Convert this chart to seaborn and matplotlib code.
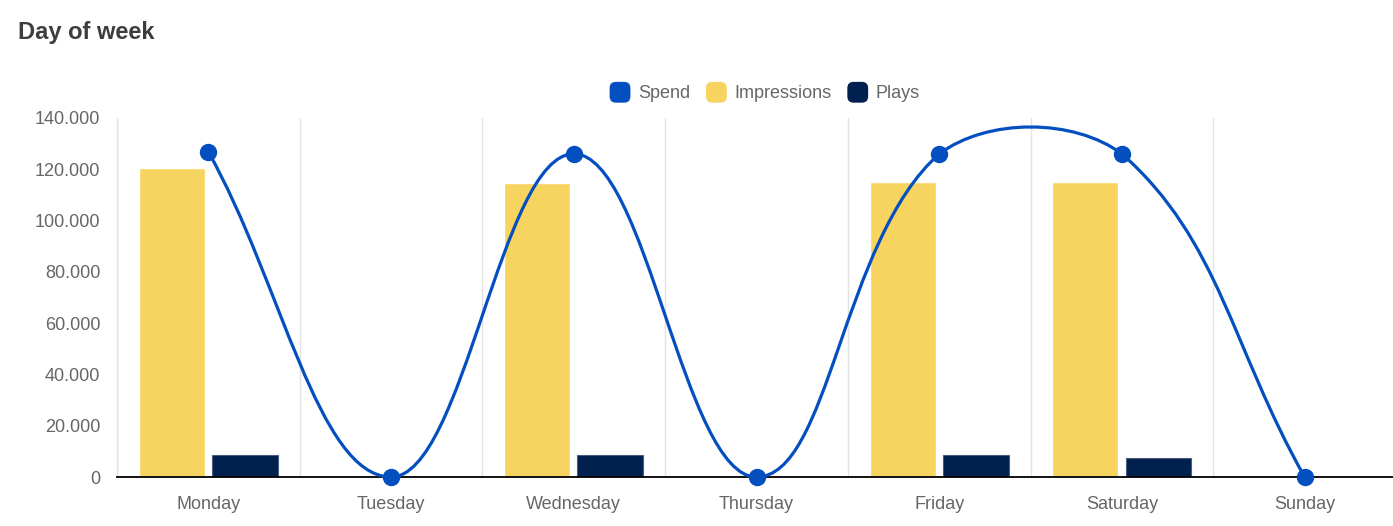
import numpy as np
import pandas as pd
import matplotlib
matplotlib.use("Agg")
import matplotlib.pyplot as plt
import seaborn as sns
from matplotlib.path import Path
from matplotlib.patches import PathPatch, FancyBboxPatch
from matplotlib.legend_handler import HandlerPatch
from matplotlib.ticker import FuncFormatter
import matplotlib.patches as mpatches

days = ["Monday", "Tuesday", "Wednesday", "Thursday", "Friday", "Saturday", "Sunday"]
spend = [126800, 0, 126000, 0, 126000, 126000, 0]
impressions = [120500, 0, 114800, 0, 115200, 115000, 0]
plays = [8600, 0, 8600, 0, 8600, 7400, 0]
yticks = [0, 20000, 40000, 60000, 80000, 100000, 120000, 140000]

C_SPEND = "#044fc0"
C_IMP = "#f7d45f"
C_PLAYS = "#00204e"

sns.set_style("white")
plt.rcParams["font.family"] = ["Liberation Sans", "DejaVu Sans"]

W, H = 1393, 526
fig = plt.figure(figsize=(W / 100, H / 100), dpi=100)
ax = fig.add_axes([117 / W, 1 - 477 / H, (1396 - 117) / W, (477 - 118) / H])

df = pd.DataFrame({
    "day": days * 2,
    "value": impressions + plays,
    "series": ["Impressions"] * 7 + ["Plays"] * 7,
})
sns.barplot(data=df, x="day", y="value", hue="series", order=days,
            hue_order=["Impressions", "Plays"],
            palette={"Impressions": C_IMP, "Plays": C_PLAYS},
            width=0.8, gap=0.1, saturation=1, errorbar=None,
            legend=False, ax=ax, zorder=2)
for p in ax.containers[1]:
    p.set_edgecolor("#4b5e82")
    p.set_linewidth(0.8)

ax.set_xlim(-0.5, 6.5)
ax.set_ylim(0, 140000)
ax.set_xlabel("")
ax.set_ylabel("")

# Chart.js-like spline (tension 0.4) computed in display space, control points capped to the plot area
fig.canvas.draw()
xs = np.arange(len(days), dtype=float)
pts = ax.transData.transform(np.column_stack([xs, np.array(spend, float)]))
bb = ax.get_window_extent()
t = 0.4
n = len(pts)
cp_prev = np.zeros_like(pts)
cp_next = np.zeros_like(pts)
for i in range(n):
    prev = pts[i - 1] if i > 0 else pts[i]
    cur = pts[i]
    nxt = pts[i + 1] if i < n - 1 else pts[i]
    d01 = np.hypot(*(cur - prev))
    d12 = np.hypot(*(nxt - cur))
    tot = d01 + d12
    s01 = d01 / tot if tot else 0
    s12 = d12 / tot if tot else 0
    cp_prev[i] = cur - t * s01 * (nxt - prev)
    cp_next[i] = cur + t * s12 * (nxt - prev)
for arr in (cp_prev, cp_next):
    arr[:, 0] = np.clip(arr[:, 0], bb.x0, bb.x1)
    arr[:, 1] = np.clip(arr[:, 1], bb.y0, bb.y1)
verts = [pts[0]]
codes = [Path.MOVETO]
for i in range(n - 1):
    verts += [cp_next[i], cp_prev[i + 1], pts[i + 1]]
    codes += [Path.CURVE4] * 3
verts = ax.transData.inverted().transform(np.array(verts))
ax.add_patch(PathPatch(Path(verts, codes), facecolor="none", edgecolor=C_SPEND,
                       lw=2.3, zorder=4, clip_on=False))
ax.plot(xs, spend, linestyle="none", marker="o", markersize=11.5,
        color=C_SPEND, zorder=5, clip_on=False)

# axes styling
for s in ["top", "right"]:
    ax.spines[s].set_visible(False)
ax.spines["left"].set_color("#e2e2e2")
ax.spines["left"].set_linewidth(1)
ax.spines["bottom"].set_color("#000000")
ax.spines["bottom"].set_linewidth(1.3)
ax.spines["bottom"].set_zorder(3)

ax.set_yticks(yticks)
ax.yaxis.set_major_formatter(FuncFormatter(lambda v, p: f"{int(v):,}".replace(",", ".")))
ax.tick_params(axis="y", length=9.5, width=1, color="#e2e2e2", pad=2.5,
               labelsize=13, labelcolor="#666666")
ax.set_xticks(range(len(days)))
ax.set_xticklabels(days)
ax.tick_params(axis="x", which="major", length=0, pad=13.5, labelsize=13, labelcolor="#666666")
ax.set_xticks(np.arange(-0.5, 7.0, 1.0), minor=True)
ax.tick_params(axis="x", which="minor", length=9.5, width=1, color="#e2e2e2")
ax.xaxis.grid(True, which="minor", color="#e2e2e2", lw=1)
ax.yaxis.grid(False)
ax.xaxis.grid(False, which="major")
ax.set_axisbelow(True)

# title
fig.text(18 / W, 1 - 33 / H, "Day of week", fontsize=17, fontweight="bold",
         color="#3d3d3d", ha="left", va="center")

# legend with rounded boxes
class RoundHandler(HandlerPatch):
    def create_artists(self, legend, orig_handle, xdescent, ydescent, width, height, fontsize, trans):
        size = min(width, height) * 1.2
        x0 = -xdescent + (width - size) / 2
        y0 = -ydescent + (height - size) / 2
        p = FancyBboxPatch((x0 + size * 0.15, y0 + size * 0.15), size * 0.7, size * 0.7,
                           boxstyle=f"round,pad={size*0.15},rounding_size={size*0.3}",
                           facecolor=orig_handle.get_facecolor(), edgecolor="none",
                           transform=trans)
        return [p]

handles = [mpatches.Patch(color=C_SPEND, label="Spend"),
           mpatches.Patch(color=C_IMP, label="Impressions"),
           mpatches.Patch(color=C_PLAYS, label="Plays")]
leg = fig.legend(handles=handles, loc="center", bbox_to_anchor=(765 / W, 1 - 93 / H),
                 ncol=3, frameon=False, fontsize=13, handlelength=1.1, handleheight=1.1,
                 handletextpad=0.45, columnspacing=0.9,
                 handler_map={mpatches.Patch: RoundHandler()})
for txt in leg.get_texts():
    txt.set_color("#666666")

fig.savefig("out.png", dpi=100)
